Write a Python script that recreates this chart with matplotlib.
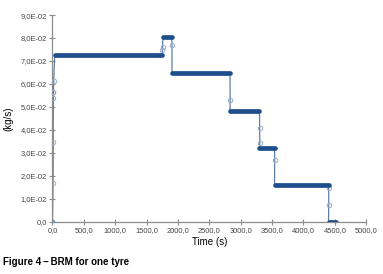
import numpy as np
import matplotlib
matplotlib.use("Agg")
from matplotlib import pyplot as plt
from matplotlib.ticker import FuncFormatter

# plateaus of the mass flow (kg/s) against time (s)
level_start = [35, 1760, 1905, 2830, 3300, 3540, 4400]
level_end = [1745, 1900, 2830, 3300, 3540, 4400, 4520]
level_value = [0.0725, 0.0806, 0.0646, 0.0484, 0.0321, 0.0160, 0.0]

# single readings on the rise at the start
rise_t = [0, 10, 12, 14, 15, 16, 20]
rise_v = [0.0, 0.0167, 0.0348, 0.0540, 0.0566, 0.0566, 0.0613]

# single readings between plateaus (after plateau i)
step_after = [0, 0, 1, 2, 3, 3, 4, 5, 5]
step_t = [1752, 1755, 1905, 2832, 3302, 3304, 3542, 4402, 4404]
step_v = [0.0748, 0.0762, 0.0769, 0.0530, 0.0409, 0.0341, 0.0269, 0.0145, 0.0073]

x_ticks = [0, 500, 1000, 1500, 2000, 2500, 3000, 3500, 4000, 4500, 5000]
y_ticks = [0, 0.01, 0.02, 0.03, 0.04, 0.05, 0.06, 0.07, 0.08, 0.09]

plt.rcParams['font.family'] = ['Liberation Sans', 'DejaVu Sans']

fig = plt.figure(figsize=(3.83, 2.74), dpi=100)
ax = fig.add_axes([0.137, 0.191, 0.819, 0.754])

# join everything up in time order for the thin line
path_t = list(rise_t)
path_v = list(rise_v)
for i in range(len(level_value)):
    path_t += [level_start[i], level_end[i]]
    path_v += [level_value[i], level_value[i]]
    for k in range(len(step_after)):
        if step_after[k] == i:
            path_t.append(step_t[k])
            path_v.append(step_v[k])

ax.plot(path_t, path_v, color='#5d7fa6', lw=0.9, zorder=2)
ax.plot(rise_t + step_t, rise_v + step_v, ls='none', marker='o', ms=3.2,
        mfc='none', mec='#98abc4', mew=0.7, zorder=3)
ax.hlines(level_value, level_start, level_end, color='#1f4e8c', lw=3.4,
          capstyle='round', zorder=4)
ax.plot([0], [0], ls='none', marker='o', ms=3.2, mfc='none', mec='#5d7fa6',
        mew=0.8, zorder=5)

ax.set_xlim(0, 5000)
ax.set_ylim(0, 0.09)
ax.set_xticks(x_ticks)
ax.set_yticks(y_ticks)
ax.xaxis.set_major_formatter(FuncFormatter(lambda v, p: f"{v:.1f}".replace('.', ',')))
ax.yaxis.set_major_formatter(FuncFormatter(
    lambda v, p: "0,0" if v == 0 else f"{v:.1E}".replace('.', ',')))

for s in ['top', 'right']:
    ax.spines[s].set_visible(False)
for s in ['left', 'bottom']:
    ax.spines[s].set_color('#8c8c8c')
    ax.spines[s].set_linewidth(0.9)
ax.tick_params(axis='both', direction='inout', length=5, width=0.8,
               color='#8c8c8c', labelsize=5.4, labelcolor='#444444', pad=1.5)

ax.set_xlabel('Time (s)', fontsize=7, labelpad=2)
ax.set_ylabel('(kg/s)', fontsize=7, labelpad=5)

fig.text(0.008, 0.025, 'Figure 4\u2009\u2013\u2009BRM for one tyre', fontsize=7,
         fontweight='bold', ha='left', va='bottom')

fig.savefig('out.png', dpi=100)
